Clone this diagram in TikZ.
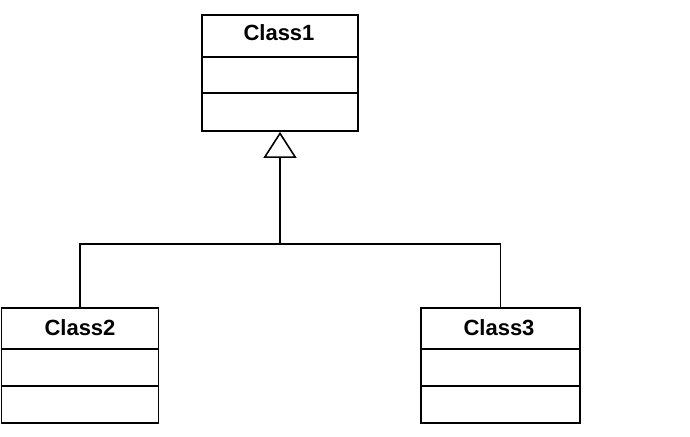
\documentclass[tikz,border=0pt]{standalone}
\usepackage{fontspec}
\setmainfont{Liberation Sans}
\usetikzlibrary{arrows.meta}
\begin{document}
\begin{tikzpicture}[x=1pt,y=-1pt,
  classbox/.style={draw=black,line width=1.8pt,rectangle,inner sep=0pt},
  sepline/.style={draw=black,line width=1.6pt},
  title/.style={font=\bfseries\fontsize{22}{24}\selectfont,anchor=base,inner sep=0pt},
  conn/.style={draw=black,line width=1.7pt}]
\useasboundingbox[fill=white] (0,0) rectangle (690,436);
% class boxes
\node[classbox,minimum width=156pt,minimum height=116pt] (c1) at (280,73) {};
\node[classbox,minimum width=157pt,minimum height=115pt] (c2) at (80,365.5) {};
\node[classbox,minimum width=159pt,minimum height=115pt] (c3) at (500.5,365.5) {};
% compartments
\draw[sepline] (c1.west |- 0,57) -- (c1.east |- 0,57);
\draw[sepline] (c1.west |- 0,93) -- (c1.east |- 0,93);
\draw[sepline] (c2.west |- 0,349) -- (c2.east |- 0,349);
\draw[sepline] (c2.west |- 0,386) -- (c2.east |- 0,386);
\draw[sepline] (c3.west |- 0,349) -- (c3.east |- 0,349);
\draw[sepline] (c3.west |- 0,386) -- (c3.east |- 0,386);
% titles
\node[title] (t1) at (279,41) {Class1};
\node[title] (t2) at (80,335) {Class2};
\node[title] (t3) at (499,335) {Class3};
% generalization
\coordinate (j) at (280,244);
\draw[conn,-{Triangle[open,length=26pt,width=33pt,line width=1.6pt]}] (j) -- (c1.south);
\draw[conn] (c2.north) -- (c2.north |- j) -- (c3.north |- j) -- (c3.north);
\end{tikzpicture}
\end{document}
